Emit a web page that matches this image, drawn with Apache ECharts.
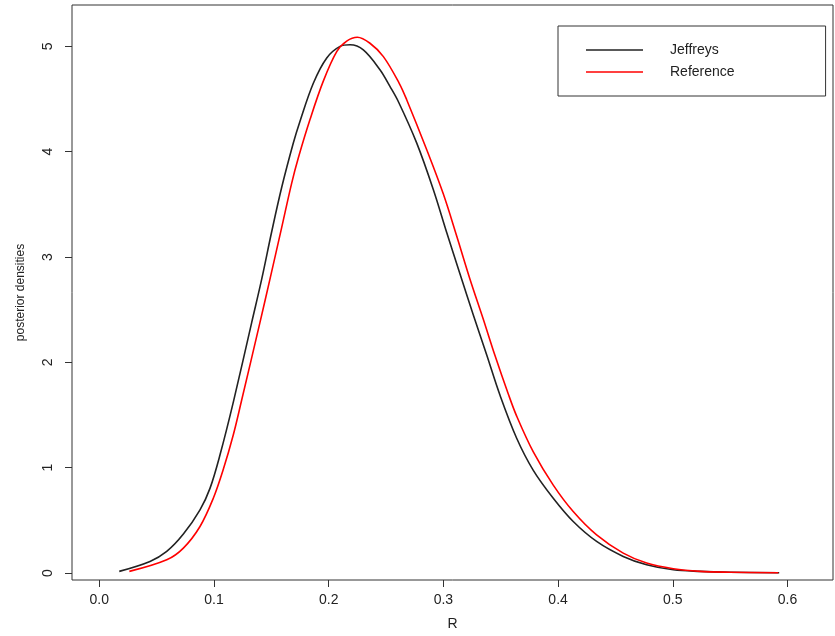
<!DOCTYPE html>
<html>
<head>
<meta charset="utf-8">
<script src="https://cdn.jsdelivr.net/npm/echarts@6/dist/echarts.min.js"></script>
<style>
html,body{margin:0;padding:0;background:#fff;}
#chart{width:835px;height:636px;}
</style>
</head>
<body>
<div id="chart"></div>
<script>
// R values (x) and posterior densities (y)
const jeffreysR = [0.0174,0.0442,0.0588,0.0733,0.0878,0.0965,0.1052,0.1168,0.1329,0.1416,0.1503,0.1590,0.1691,0.1750,0.1866,0.1983,0.2099,0.2186,0.2302,0.2447,0.2534,0.2610,0.2767,0.2912,0.3029,0.3145,0.3261,0.3378,0.3493,0.3639,0.3784,0.3958,0.4132,0.4336,0.4568,0.4772,0.5005,0.5237,0.5500,0.5928];
const jeffreysD = [0.016,0.110,0.205,0.370,0.600,0.804,1.120,1.620,2.380,2.790,3.240,3.660,4.080,4.290,4.650,4.890,5.000,5.015,4.967,4.778,4.620,4.470,4.084,3.642,3.233,2.840,2.450,2.070,1.690,1.280,0.975,0.710,0.489,0.300,0.158,0.079,0.031,0.016,0.008,0.003];
const referenceR = [0.0262,0.0588,0.0733,0.0878,0.0994,0.1080,0.1168,0.1241,0.1401,0.1488,0.1590,0.1677,0.1735,0.1837,0.1953,0.2070,0.2157,0.2250,0.2360,0.2477,0.2615,0.2680,0.2854,0.2999,0.3116,0.3232,0.3348,0.3450,0.3566,0.3639,0.3784,0.3958,0.4132,0.4336,0.4568,0.4772,0.5005,0.5237,0.5500,0.5920];
const referenceD = [0.016,0.126,0.237,0.442,0.710,0.980,1.310,1.640,2.380,2.790,3.280,3.700,3.940,4.305,4.670,4.950,5.050,5.087,5.030,4.903,4.650,4.494,4.021,3.600,3.200,2.790,2.410,2.065,1.700,1.490,1.150,0.835,0.584,0.362,0.189,0.095,0.041,0.016,0.008,0.003];
const xTicks = [0, 0.1, 0.2, 0.3, 0.4, 0.5, 0.6];
const yTicks = [0, 1, 2, 3, 4, 5];
const seriesNames = ['Jeffreys', 'Reference'];

const pair = (xs, ys) => xs.map((x, i) => [x, ys[i]]);
const FONT = '"Liberation Sans", Arial, Helvetica, sans-serif';

const chart = echarts.init(document.getElementById('chart'), null, {renderer: 'canvas'});
chart.setOption({
  animation: false,
  backgroundColor: '#fff',
  grid: {left: 72, right: 2, top: 5, bottom: 54, show: true, borderColor: '#333', borderWidth: 1, backgroundColor: 'transparent'},
  legend: {
    orient: 'vertical', left: 558, top: 26,
    padding: [17, 91, 17, 28], itemGap: 8,
    itemWidth: 57, itemHeight: 1.5, icon: 'rect',
    borderColor: '#333', borderWidth: 1,
    textStyle: {fontFamily: FONT, fontSize: 14, color: '#222', padding: [0, 0, 0, 22], lineHeight: 14, height: 14},
    data: seriesNames
  },
  xAxis: {
    type: 'value', min: -0.0238, max: 0.6397,
    name: 'R', nameLocation: 'middle', nameGap: 37,
    nameTextStyle: {fontFamily: FONT, fontSize: 14, color: '#222'},
    axisLine: {show: false, onZero: false},
    axisTick: {show: true, inside: false, length: 7, customValues: xTicks, lineStyle: {color: '#333'}},
    axisLabel: {customValues: xTicks, margin: 13, fontFamily: FONT, fontSize: 14, color: '#222', formatter: v => v.toFixed(1)},
    splitLine: {show: false}
  },
  yAxis: {
    type: 'value', min: -0.066, max: 5.393,
    name: 'posterior densities', nameLocation: 'middle', nameGap: 45,
    nameTextStyle: {fontFamily: FONT, fontSize: 12, color: '#222'},
    axisLine: {show: false, onZero: false},
    axisTick: {show: true, inside: false, length: 7, customValues: yTicks, lineStyle: {color: '#333'}},
    axisLabel: {customValues: yTicks, rotate: 90, margin: 17, fontFamily: FONT, fontSize: 14, color: '#222', formatter: v => String(v)},
    splitLine: {show: false}
  },
  series: [
    {name: seriesNames[0], type: 'line', data: pair(jeffreysR, jeffreysD), symbol: 'none', smooth: 0.35,
     lineStyle: {color: '#222', width: 1.6}, itemStyle: {color: '#222'}},
    {name: seriesNames[1], type: 'line', data: pair(referenceR, referenceD), symbol: 'none', smooth: 0.35,
     lineStyle: {color: '#ff0000', width: 1.6}, itemStyle: {color: '#ff0000'}}
  ]
});
</script>
</body>
</html>
